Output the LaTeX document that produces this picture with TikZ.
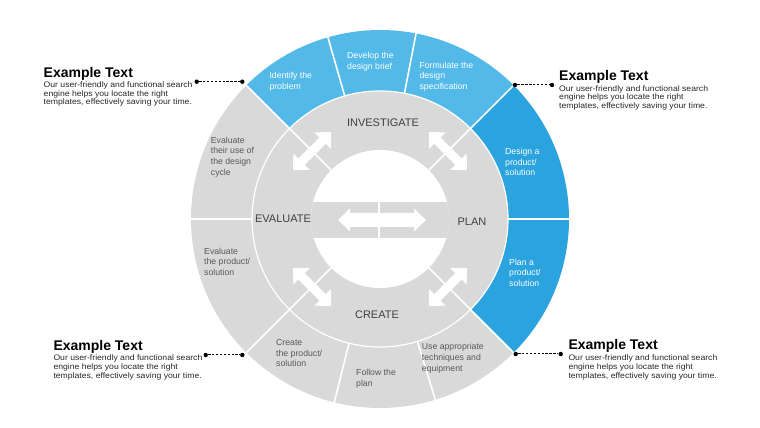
\documentclass[tikz,border=0pt]{standalone}
\usepackage{fontspec}
\setmainfont{Liberation Sans}
\newfontfamily\bodyfont[FakeStretch=1.08]{Liberation Sans}
\definecolor{lblue}{RGB}{82,185,233}
\definecolor{dblue}{RGB}{42,163,222}
\definecolor{segray}{RGB}{217,217,217}
\definecolor{txtgray}{RGB}{89,89,89}
\definecolor{phasegray}{RGB}{64,64,64}
\tikzset{
  seglabel/.style={font=\fontsize{8.7}{10.7}\selectfont, align=left, anchor=west, inner sep=0pt},
  onblue/.style={seglabel, text=white},
  ongray/.style={seglabel, text=txtgray},
  phaselabel/.style={font=\fontsize{11}{13}\selectfont, text=phasegray, inner sep=0pt},
  exttitle/.style={font=\bfseries\fontsize{14}{16}\selectfont, anchor=base west, inner sep=0pt, text=black},
  extbody/.style={font=\bodyfont\fontsize{8}{8.7}\selectfont, align=left, anchor=west, inner sep=0pt, text=black!85},
  enddot/.style={circle, fill=black, inner sep=0pt, minimum size=4.4pt},
  leader/.style={dashed, dash pattern=on 2.4pt off 1.5pt, line width=1pt},
  sep/.style={white, line width=1.6pt},
  dblarr/.pic={\fill[white] (-27,0) -- (-15,11.5) -- (-15,4.5) -- (15,4.5) -- (15,11.5) -- (27,0) -- (15,-11.5) -- (15,-4.5) -- (-15,-4.5) -- (-15,-11.5) -- cycle;}
}
\newcommand\ringseg[3]{\fill[#1] (#2:189) arc[start angle=#2, end angle=#3, radius=189] -- (#3:128) arc[start angle=#3, end angle=#2, radius=128] -- cycle;}
\begin{document}
\begin{tikzpicture}[x=1pt,y=1pt]
\path[use as bounding box] (0,0) rectangle (760,428);
\begin{scope}[shift={(380,209)}]
  % outer segments
  \ringseg{lblue}{45}{79}
  \ringseg{lblue}{79}{106}
  \ringseg{lblue}{106}{135}
  \ringseg{segray}{135}{180}
  \ringseg{segray}{180}{225}
  \ringseg{segray}{225}{256}
  \ringseg{segray}{256}{287}
  \ringseg{segray}{287}{315}
  \ringseg{dblue}{315}{360}
  \ringseg{dblue}{0}{45}
  % inner ring
  \fill[segray] (0,0) circle[radius=128];
  \draw[white, line width=1.2pt] (0,0) circle[radius=128];
  \foreach \a in {0,79,106,180,256,287}{\draw[sep] (\a:128) -- (\a:190);}
  \foreach \a in {45,135,225,315}{\draw[sep] (\a:69) -- (\a:190);}
  % inner disk and band
  \fill[white] (0,0) circle[radius=69];
  \begin{scope}
    \clip (0,0) circle[radius=69];
    \fill[segray] (-70,-19) rectangle (70,17);
  \end{scope}
  \draw[white, line width=1.6pt] (-1,-19) -- (-1,17);
  \fill[white] (-42,-1) -- (-30,10.5) -- (-30,6) -- (34,6) -- (34,10.5) -- (46,-1) -- (34,-12.5) -- (34,-8) -- (-30,-8) -- (-30,-12.5) -- cycle;
  % diagonal double arrows
  \pic[rotate=135] at (45:96) {dblarr};
  \pic[rotate=225] at (135:96) {dblarr};
  \pic[rotate=315] at (225:96) {dblarr};
  \pic[rotate=45] at (315:96) {dblarr};
\end{scope}
% phase labels
\node[phaselabel] (inv) at (383,305) {INVESTIGATE};
\node[phaselabel] (eva) at (283,209) {EVALUATE};
\node[phaselabel] (pla) at (472,206) {PLAN};
\node[phaselabel] (cre) at (377,113) {CREATE};
% segment labels
\node[onblue] (s1) at (269.3,346) {Identify the\\problem};
\node[onblue] (s2) at (347,366.5) {Develop the\\design brief};
\node[onblue] (s3) at (419.3,351.5) {Formulate the\\design\\specification};
\node[onblue] (s4) at (505,266) {Design a\\product/\\solution};
\node[onblue] (s5) at (509,155.2) {Plan a\\product/\\solution};
\node[ongray] (s6) at (421.7,69.7) {Use appropriate\\techniques and\\equipment};
\node[ongray] (s7) at (356,49.3) {Follow the\\plan};
\node[ongray] (s8) at (276,74.7) {Create\\the product/\\solution};
\node[ongray] (s9) at (204,166.3) {Evaluate\\the product/\\solution};
\node[ongray] (s10) at (210.7,271) {Evaluate\\their use of\\the design\\cycle};
% example text blocks
\node[exttitle] (t1) at (43.5,350.7) {Example Text};
\node[extbody] (b1) at (43.5,334) {Our user-friendly and functional search\\engine helps you locate the right\\templates, effectively saving your time.};
\node[exttitle] (t2) at (559,347.5) {Example Text};
\node[extbody] (b2) at (559,330.2) {Our user-friendly and functional search\\engine helps you locate the right\\templates, effectively saving your time.};
\node[exttitle] (t3) at (53.3,77) {Example Text};
\node[extbody] (b3) at (53.3,60.5) {Our user-friendly and functional search\\engine helps you locate the right\\templates, effectively saving your time.};
\node[exttitle] (t4) at (568.3,78) {Example Text};
\node[extbody] (b4) at (568.3,60.5) {Our user-friendly and functional search\\engine helps you locate the right\\templates, effectively saving your time.};
% leaders
\node[enddot] (d1a) at (196.7,346.3) {};
\node[enddot] (d1b) at (242.3,346.3) {};
\node[enddot] (d2a) at (515,343) {};
\node[enddot] (d2b) at (552,343) {};
\node[enddot] (d3a) at (205.7,73) {};
\node[enddot] (d3b) at (242.3,73) {};
\node[enddot] (d4a) at (515.7,74) {};
\node[enddot] (d4b) at (560.7,74) {};
\draw[leader] (d1a) -- (d1b);
\draw[leader] (d2a) -- (d2b);
\draw[leader] (d3a) -- (d3b);
\draw[leader] (d4a) -- (d4b);
\end{tikzpicture}
\end{document}
